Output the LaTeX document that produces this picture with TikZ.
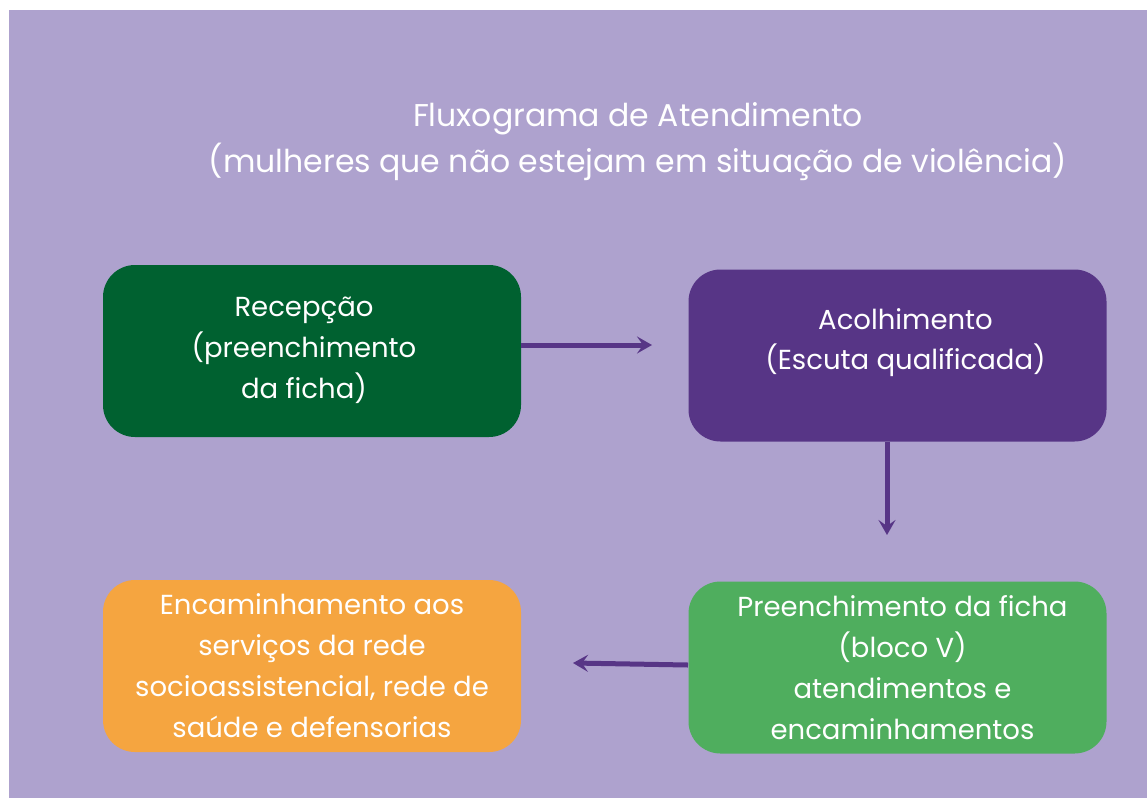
\documentclass[tikz,border=0pt]{standalone}
\usepackage{fontspec}
\setmainfont{Poppins}
\usetikzlibrary{arrows.meta}
\definecolor{bgpurple}{HTML}{AEA2CE}
\definecolor{dkgreen}{HTML}{006130}
\definecolor{dkpurple}{HTML}{573586}
\definecolor{ltgreen}{HTML}{4FAE5E}
\definecolor{orangebox}{HTML}{F5A540}
\tikzset{
  box/.style={rounded corners=32pt, minimum width=418pt, minimum height=172pt, inner sep=0pt},
  boxtext/.style={text=white, align=center, inner sep=0pt, font=\fontsize{27.5}{41}\selectfont},
  arr/.style={draw=dkpurple, line width=5pt, -{Stealth[length=15pt, width=17pt, inset=6pt]}}
}
\begin{document}
\begin{tikzpicture}[x=1pt,y=-1pt]
\useasboundingbox (0,0) rectangle (1147,798);
\fill[bgpurple] (9,10) rectangle (1147,798);
\node[text=white, align=center, font=\fontsize{31.5}{46}\selectfont] (title) at (638,142) {Fluxograma de Atendimento\\(mulheres que não estejam em situação de violência)};
\node[box, fill=dkgreen] (rec) at (312,351) {};
\node[box, fill=dkpurple] (aco) at (897.5,355.5) {};
\node[box, fill=ltgreen] (pre) at (897.5,667.5) {};
\node[box, fill=orangebox] (enc) at (312,666) {};
\node[boxtext] (recT) at ([xshift=-8pt,yshift=1pt]rec.center) {Recepção\\(preenchimento\\da ficha)};
\node[boxtext, font=\fontsize{27.5}{40}\selectfont] (acoT) at ([xshift=8pt,yshift=13pt]aco.center) {Acolhimento\\(Escuta qualificada)};
\node[boxtext] (preT) at ([xshift=5pt]pre.center) {Preenchimento da ficha\\(bloco V)\\atendimentos e\\encaminhamentos};
\node[boxtext] (encT) at (enc.center) {Encaminhamento aos\\serviços da rede\\socioassistencial, rede de\\saúde e defensorias};
\coordinate (a1) at (652,345);
\coordinate (a2) at (887,535);
\coordinate (a3) at (573,663);
\coordinate (p3) at (688,665);
\draw[arr] (rec.east |- a1) -- (a1);
\draw[arr] (aco.south -| a2) -- (a2);
\draw[arr] (p3) -- (a3);
\end{tikzpicture}
\end{document}
